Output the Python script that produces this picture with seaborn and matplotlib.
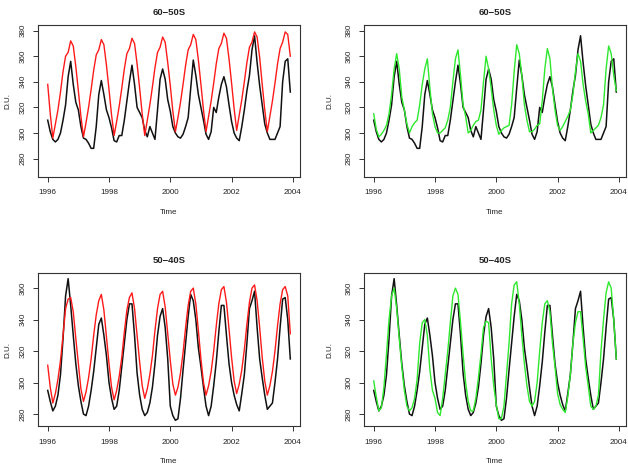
import numpy as np
import pandas as pd
import matplotlib
matplotlib.use("Agg")
import matplotlib.pyplot as plt
import seaborn as sns

# ---------------- data (monthly, Jan 1996 - Dec 2003) ----------------
start_year = 1996
n_years = 8

black_6050 = [
    310, 301, 295, 293, 295, 300, 310, 322, 344, 356, 338, 324,
    318, 305, 296, 295, 292, 288, 288, 305, 330, 341, 330, 318,
    312, 304, 294, 293, 298, 298, 310, 325, 340, 353, 338, 320,
    316, 312, 302, 297, 305, 300, 295, 318, 342, 350, 342, 326,
    317, 305, 300, 297, 296, 299, 305, 312, 335, 357, 345, 330,
    320, 310, 299, 295, 301, 320, 316, 328, 338, 344, 336, 322,
    309, 300, 296, 294, 305, 318, 333, 345, 365, 376, 355, 337,
    322, 307, 300, 295, 295, 295, 300, 305, 340, 356, 358, 332,
]
red_6050 = [
    338, 315, 296, 307, 318, 332, 348, 360, 363, 372, 368, 352,
    333, 313, 297, 308, 320, 334, 349, 361, 365, 373, 369, 353,
    334, 314, 298, 309, 321, 335, 350, 362, 366, 374, 370, 354,
    335, 315, 298, 310, 322, 336, 351, 363, 367, 375, 371, 355,
    337, 317, 301, 312, 324, 338, 353, 365, 369, 377, 373, 357,
    338, 318, 301, 313, 325, 339, 354, 366, 370, 378, 374, 358,
    339, 319, 302, 314, 326, 340, 355, 367, 371, 379, 375, 359,
    338, 318, 301, 313, 325, 339, 354, 366, 371, 379, 377, 360,
]
green_6050 = [
    315, 303, 297, 299, 302, 306, 315, 330, 350, 362, 350, 328,
    318, 307, 300, 305, 308, 310, 322, 338, 350, 358, 335, 315,
    305, 300, 300, 302, 304, 310, 320, 340, 358, 365, 345, 322,
    313, 300, 302, 306, 309, 310, 318, 340, 360, 350, 335, 318,
    306, 299, 302, 304, 305, 306, 322, 348, 369, 362, 345, 322,
    310, 301, 301, 303, 306, 307, 325, 350, 366, 358, 335, 318,
    306, 302, 305, 309, 313, 318, 330, 348, 362, 356, 338, 325,
    315, 300, 302, 304, 306, 312, 322, 350, 368, 362, 345, 333,
]
black_5040 = [
    295, 288, 282, 285, 292, 305, 328, 355, 366, 349, 330, 312,
    298, 288, 280, 279, 285, 295, 307, 322, 337, 341, 330, 317,
    300, 290, 283, 285, 295, 310, 325, 340, 350, 350, 330, 306,
    292, 283, 279, 281, 287, 297, 312, 330, 342, 347, 335, 315,
    285, 279, 276, 277, 290, 308, 325, 342, 356, 352, 340, 322,
    310, 297, 285, 279, 285, 298, 313, 332, 349, 349, 330, 312,
    300, 292, 286, 282, 293, 305, 325, 347, 352, 358, 335, 315,
    303, 292, 283, 285, 287, 300, 315, 335, 353, 354, 340, 315,
]
red_5040 = [
    311, 297, 287, 293, 302, 314, 330, 347, 353, 354, 345, 328,
    312, 296, 288, 294, 303, 315, 330, 343, 352, 356, 346, 329,
    312, 297, 289, 295, 304, 316, 332, 346, 354, 357, 347, 330,
    313, 298, 290, 296, 305, 317, 333, 347, 356, 358, 348, 331,
    314, 299, 292, 297, 306, 319, 335, 349, 358, 360, 350, 333,
    315, 300, 292, 298, 307, 320, 336, 350, 359, 361, 351, 334,
    316, 301, 293, 299, 308, 321, 337, 351, 360, 362, 352, 335,
    316, 301, 292, 298, 307, 320, 336, 350, 359, 361, 355, 331,
]
green_5040 = [
    301, 291, 282, 284, 297, 318, 340, 355, 360, 347, 328, 310,
    295, 285, 282, 284, 290, 302, 325, 338, 340, 330, 308, 295,
    290, 281, 279, 290, 305, 320, 338, 355, 360, 356, 338, 318,
    300, 288, 282, 282, 290, 303, 318, 335, 339, 338, 315, 298,
    286, 277, 277, 285, 305, 325, 350, 362, 364, 350, 330, 312,
    298, 288, 285, 288, 300, 320, 338, 350, 352, 345, 325, 310,
    293, 286, 283, 281, 291, 305, 325, 338, 345, 345, 328, 310,
    298, 285, 283, 285, 292, 320, 340, 357, 364, 360, 340, 315,
]

titles = ["60\u221250S", "60\u221250S", "50\u221240S", "50\u221240S"]
x_ticks = [1996, 1998, 2000, 2002, 2004]
y_ticks_top = [280, 300, 320, 340, 360, 380]
y_ticks_bottom = [280, 300, 320, 340, 360]

time = start_year + np.arange(n_years * 12) / 12.0

# ---------------- figure ----------------
W, H = 628, 472
fig = plt.figure(figsize=(W / 100, H / 100), dpi=100)
plt.rcParams["font.family"] = ["Liberation Sans", "DejaVu Sans"]

def box(x0, y0, x1, y1):
    return [x0 / W, 1 - y1 / H, (x1 - x0) / W, (y1 - y0) / H]

panels = [
    (box(38, 25, 300, 177), black_6050, red_6050, "#ff1a1a", (265.6, 384.4), y_ticks_top, -0.103),
    (box(364, 25, 626, 177), black_6050, green_6050, "#2ee82e", (265.6, 384.4), y_ticks_top, -0.118),
    (box(38, 273, 300, 426), black_5040, red_5040, "#ff1a1a", (272.4, 369.6), y_ticks_bottom, -0.103),
    (box(364, 273, 626, 426), black_5040, green_5040, "#2ee82e", (272.4, 369.6), y_ticks_bottom, -0.118),
]

txt = "#222222"
for (rect, blk, other, col, ylim, yt, ylab_x), title in zip(panels, titles):
    ax = fig.add_axes(rect)
    df = pd.DataFrame({"Time": time, "obs": blk, "model": other})
    sns.lineplot(data=df, x="Time", y="obs", color="#111111", linewidth=1.1, ax=ax)
    sns.lineplot(data=df, x="Time", y="model", color=col, linewidth=1.0, ax=ax)
    ax.set_xlim(1995.683, 2004.233)
    ax.set_ylim(*ylim)
    ax.set_xticks(x_ticks)
    ax.set_yticks(yt)
    ax.set_xticklabels([str(v) for v in x_ticks], fontsize=5.8, color=txt)
    ax.set_yticklabels([str(v) for v in yt], fontsize=5.8, color=txt,
                       rotation=90, va="center")
    ax.tick_params(axis="both", length=3.5, width=0.7, color="#333333")
    ax.tick_params(axis="x", pad=5.5)
    ax.tick_params(axis="y", pad=5)
    for s in ax.spines.values():
        s.set_color("#333333")
        s.set_linewidth(0.8)
    ax.set_xlabel("Time", fontsize=5.8, color=txt, labelpad=9)
    ax.set_ylabel("D.U.", fontsize=5.8, color=txt)
    ax.yaxis.set_label_coords(ylab_x, 0.5)
    ax.set_title(title, fontsize=6.8, fontweight="bold", color=txt, pad=7)

fig.savefig("out.png", dpi=100)
